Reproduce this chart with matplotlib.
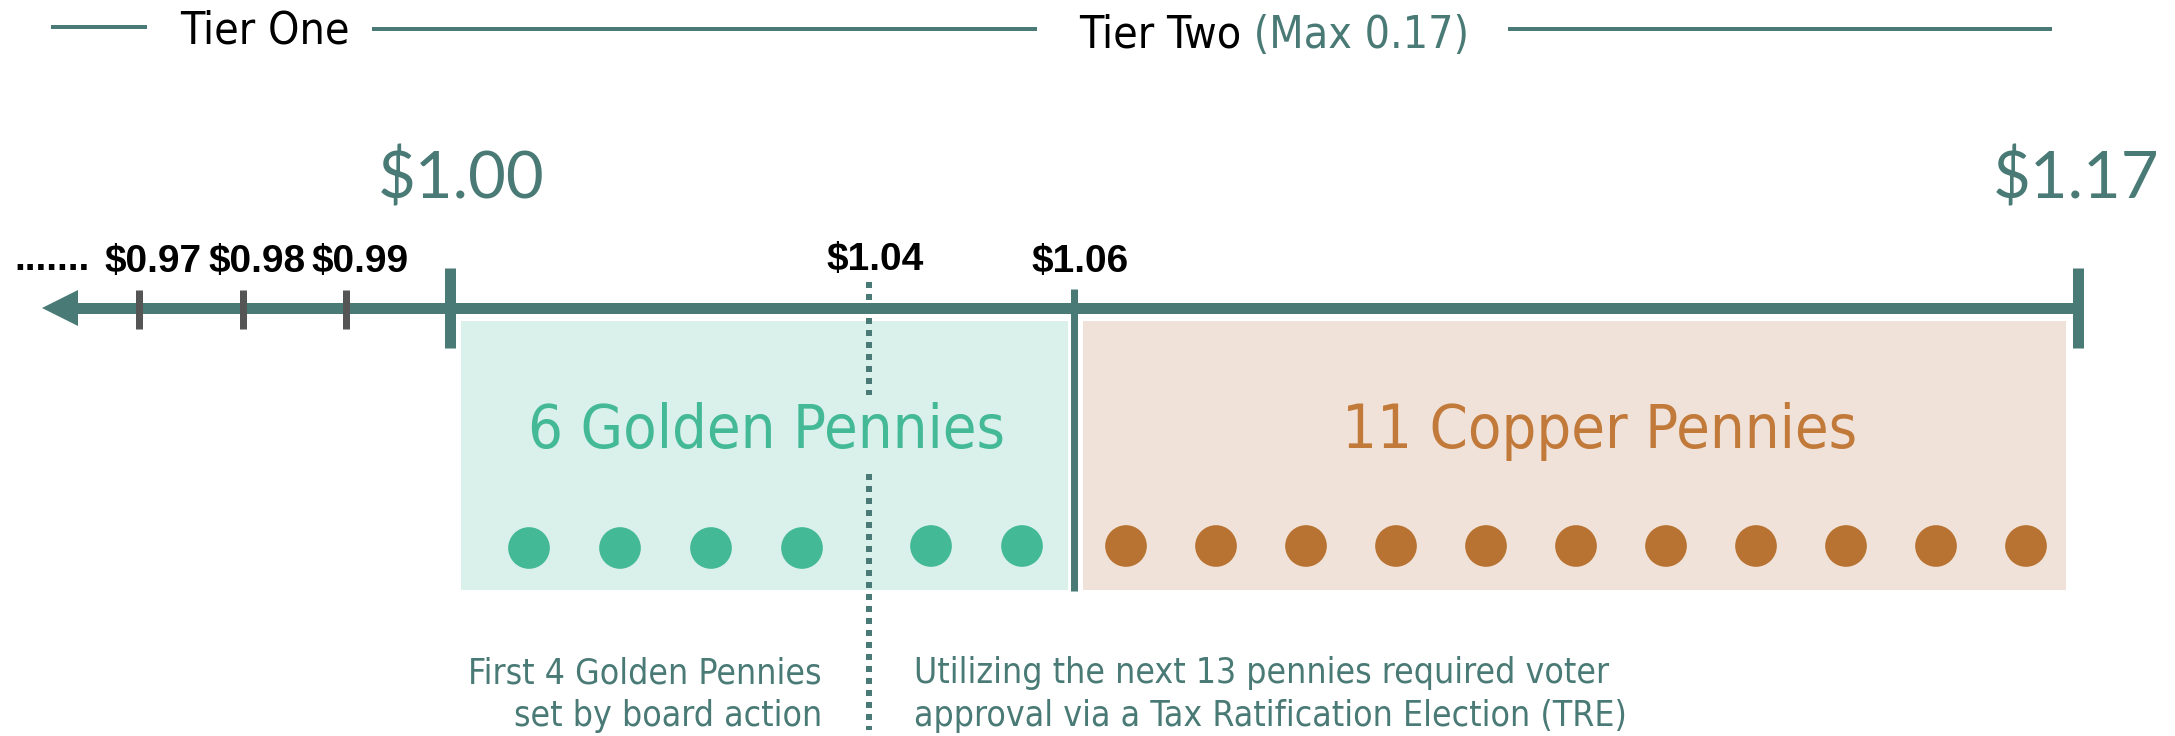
import matplotlib
matplotlib.use('Agg')
import matplotlib.pyplot as plt
from matplotlib.patches import Rectangle, Polygon
import numpy as np

# ---- data ----
tier_one_label = 'Tier One'
tier_two_label = 'Tier Two'
tier_two_note = ' (Max 0.17)'
low_values = [0.97, 0.98, 0.99]
low_labels = ['$0.97', '$0.98', '$0.99']
big_values = [1.00, 1.17]
big_labels = ['$1.00', '$1.17']
board_value = 1.04
golden_value = 1.06
mark_labels = ['$1.04', '$1.06']
golden_count = 6
copper_count = 11
board_count = 4
golden_title = '6 Golden Pennies'
copper_title = '11 Copper Pennies'
note_board = ['First 4 Golden Pennies', 'set by board action']
note_tre = ['Utilizing the next 13 pennies required voter',
            'approval via a Tax Ratification Election (TRE)']

# the number line in the original is not to scale -> piecewise value->pixel scale
scale_vals = [0.97, 1.00, 1.04, 1.06, 1.17]
scale_px = [139, 450, 869, 1074, 2078]


def xpos(v):
    return float(np.interp(v, scale_vals, scale_px))


TEAL = '#4a7a75'
GOLD = '#43b995'
GOLD_BG = '#daf0ea'
COPPER = '#b87333'
COPPER_TXT = '#c27a3b'
COPPER_BG = '#f0e2d8'
GREY = '#555555'
NARROW = dict(family='DejaVu Sans', stretch='condensed')
PX = 0.72  # pixels -> points at 100 dpi

fig = plt.figure(figsize=(21.75, 7.36), dpi=100)
ax = fig.add_axes([0, 0, 1, 1])
ax.set_xlim(0, 2175)
ax.set_ylim(736, 0)
ax.axis('off')

# ---- header ----
ax.plot([51, 147], [27, 27], color=TEAL, lw=4 * PX, solid_capstyle='butt')
ax.plot([372, 1037], [29, 29], color=TEAL, lw=4 * PX, solid_capstyle='butt')
ax.plot([1508, 2052], [29, 29], color=TEAL, lw=4 * PX, solid_capstyle='butt')
ax.text(180, 44, tier_one_label, fontsize=32, color='black', va='baseline', **NARROW)
t2 = ax.text(1079, 48, tier_two_label, fontsize=32, color='black', va='baseline', **NARROW)
ax.annotate(tier_two_note, xy=(1, 0), xycoords=t2, va='bottom', ha='left',
            fontsize=32, color=TEAL, **NARROW)

# ---- boxes ----
x0, x6, x17 = xpos(1.00), xpos(golden_value), xpos(1.17)
box_top, box_bot = 321, 590
ax.add_patch(Rectangle((x0 + 11, box_top), (x6 - 6) - (x0 + 11), box_bot - box_top,
                       facecolor=GOLD_BG, edgecolor='none', zorder=1))
ax.add_patch(Rectangle((x6 + 9, box_top), (x17 - 12) - (x6 + 9), box_bot - box_top,
                       facecolor=COPPER_BG, edgecolor='none', zorder=1))

# ---- number line ----
axis_y = 308
ax.plot([70, x17], [axis_y, axis_y], color=TEAL, lw=11 * PX, solid_capstyle='butt', zorder=3)
ax.add_patch(Polygon([[42, axis_y], [78, axis_y - 18], [78, axis_y + 18]],
                     closed=True, facecolor=TEAL, edgecolor='none', zorder=3))
for v in big_values:
    ax.plot([xpos(v)] * 2, [268, 348], color=TEAL, lw=11 * PX, solid_capstyle='butt', zorder=4)
for v in low_values:
    ax.plot([xpos(v)] * 2, [290, 329], color=GREY, lw=7 * PX, solid_capstyle='butt', zorder=4)
ax.plot([x6] * 2, [289, 591], color=TEAL, lw=7 * PX, solid_capstyle='butt', zorder=4)
xb = xpos(board_value)
ax.plot([xb] * 2, [282, 730], color=TEAL, lw=6 * PX, dashes=(1, 1),
        dash_capstyle='butt', zorder=2)

# labels on the line
ax.text(14, 270, '.......', fontsize=28, family='Liberation Sans', weight='bold',
        color='black', va='baseline', ha='left')
for v, lab in zip(low_values, low_labels):
    ax.text(xpos(v) + 14, 272, lab, fontsize=28, family='Liberation Sans', weight='bold',
            color='black', ha='center', va='baseline')
for v, lab, yb in zip([board_value, golden_value], mark_labels, [270, 272]):
    ax.text(xpos(v) + 6, yb, lab, fontsize=28, family='Liberation Sans', weight='bold',
            color='black', ha='center', va='baseline')
for v, lab, dx in zip(big_values, big_labels, [11, -2]):
    ax.text(xpos(v) + dx, 199, lab, fontsize=47, family='Lato', color=TEAL,
            ha='center', va='baseline')

# ---- box titles ----
ax.text(767, 448, golden_title, fontsize=44, color=GOLD, ha='center',
        va='baseline', zorder=5,
        bbox=dict(boxstyle='square,pad=0.12', facecolor=GOLD_BG, edgecolor='none'), **NARROW)
ax.text(1600, 448, copper_title, fontsize=44, color=COPPER_TXT,
        ha='center', va='baseline', zorder=5, **NARROW)

# ---- pennies ----
gold_x = [x0 + 79 + 91 * i + (38 if i >= board_count else 0) for i in range(golden_count)]
gold_y = [548 if i < board_count else 546 for i in range(golden_count)]
ax.scatter(gold_x, gold_y, s=30 ** 2, color=GOLD, edgecolors='none', zorder=5)
copper_x = [x6 + 52 + 90 * i for i in range(copper_count)]
ax.scatter(copper_x, [546] * copper_count, s=30 ** 2, color=COPPER, edgecolors='none', zorder=5)

# ---- footnotes ----
for k, line in enumerate(note_board):
    ax.text(822, 683 + 43 * k, line, fontsize=25.5, color=TEAL,
            ha='right', va='baseline', **NARROW)
for k, line in enumerate(note_tre):
    ax.text(914, 683 + 43 * k, line, fontsize=25.5, color=TEAL,
            ha='left', va='baseline', **NARROW)

fig.savefig('out.png', dpi=100)
